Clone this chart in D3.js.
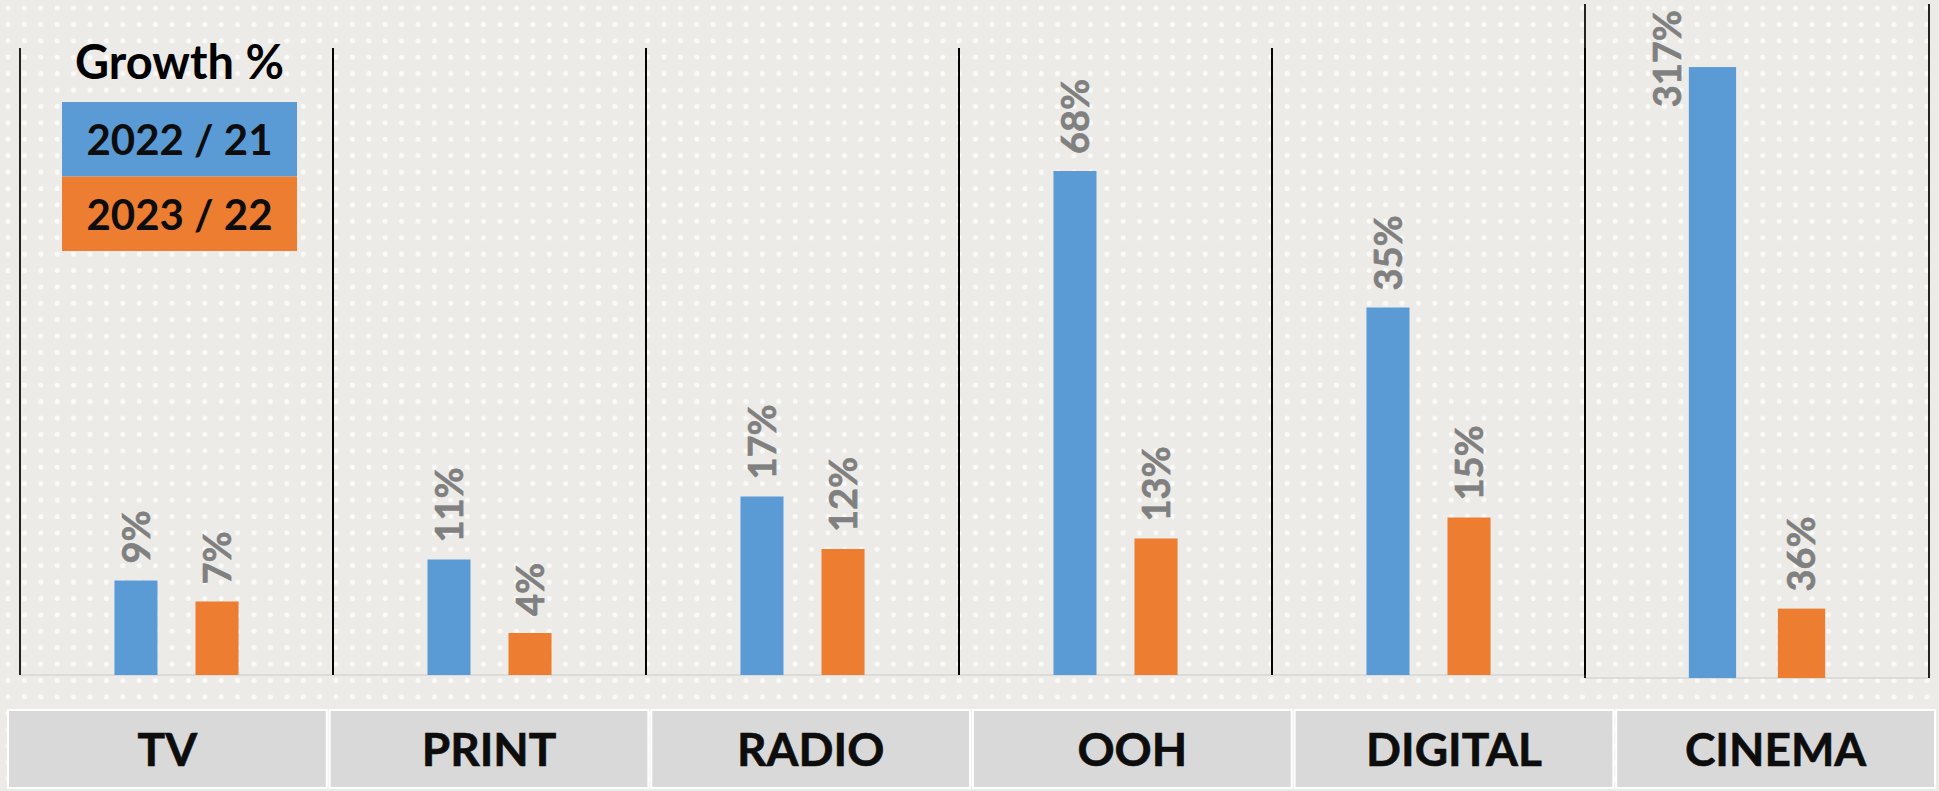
<!DOCTYPE html>
<html>
<head>
  <meta charset="utf-8">
  <title>Growth %</title>
  <script src="https://d3js.org/d3.v7.min.js"></script>
  <style>
    body { margin: 0; background: #edebe7; }
    svg { display: block; font-family: Lato, "Open Sans", sans-serif; }
  </style>
</head>
<body>
  <svg width="1939" height="791"></svg>

  <script>
    // datos del gráfico
    const categories = ["TV", "PRINT", "RADIO", "OOH", "DIGITAL", "CINEMA"];
    const series = ["2022 / 21", "2023 / 22"];
    const growth2022 = [9, 11, 17, 68, 35, 317];
    const growth2023 = [7, 4, 12, 13, 15, 36];
    const colors = ["#5b9bd5", "#ed7d31"];

    const width = 1939, height = 791;
    const svg = d3.select("svg");

    // fondo con puntos
    const defs = svg.append("defs");
    const pat = defs.append("pattern")
      .attr("id", "dots")
      .attr("patternUnits", "userSpaceOnUse")
      .attr("width", 16.4).attr("height", 16.4);
    pat.append("circle")
      .attr("cx", 8).attr("cy", 8).attr("r", 2.5)
      .attr("fill", "#fff").attr("opacity", 0.75);
    svg.append("rect").attr("width", width).attr("height", height).attr("fill", "#ecebe7");
    svg.append("rect").attr("width", width).attr("height", height).attr("fill", "url(#dots)");

    // cinco paneles con la misma escala; CINEMA va aparte
    const mainCats = categories.slice(0, 5);
    const x0 = d3.scaleBand().domain(mainCats).range([20, 1585]);
    const xCin = d3.scaleBand().domain(["CINEMA"]).range([1585, 1929]);
    const panelX = c => c === "CINEMA" ? xCin(c) : x0(c);
    const panelW = c => c === "CINEMA" ? xCin.bandwidth() : x0.bandwidth();

    const yMain = d3.scaleLinear().domain([0, 60]).range([675, 45]);
    const maxShown = 48; // barras más altas se cortan aquí
    const yCin = d3.scaleLinear().domain([0, 330]).range([678, 42]);
    const yFor = c => c === "CINEMA" ? yCin : yMain;

    const rows = categories.map((c, i) => ({
      cat: c,
      values: [growth2022[i], growth2023[i]]
    }));

    // línea base
    const g = svg.append("g");
    g.append("line")
      .attr("x1", 20).attr("x2", 1585)
      .attr("y1", yMain(0)).attr("y2", yMain(0))
      .attr("stroke", "#d6d6d6").attr("stroke-width", 1.5);
    g.append("line")
      .attr("x1", 1585).attr("x2", 1929)
      .attr("y1", yCin(0)).attr("y2", yCin(0))
      .attr("stroke", "#d6d6d6").attr("stroke-width", 1.5);

    // separadores verticales
    rows.forEach(r => {
      const isCin = r.cat === "CINEMA";
      const top = isCin ? 4 : 48;
      const bottom = yFor(r.cat)(0);
      [panelX(r.cat), panelX(r.cat) + panelW(r.cat)].forEach(xx => {
        g.append("line")
          .attr("x1", xx).attr("x2", xx)
          .attr("y1", top).attr("y2", bottom)
          .attr("stroke", "#000").attr("stroke-width", 1.7);
      });
    });

    // barras
    rows.forEach(r => {
      const y = yFor(r.cat);
      const w = panelW(r.cat);
      const x1 = d3.scaleBand().domain(series).range([0, w])
        .paddingInner(0.469).paddingOuter(1.166);
      const pg = g.append("g").attr("transform", `translate(${panelX(r.cat)},0)`);
      const fontSize = 38;

      r.values.forEach((v, k) => {
        const shown = r.cat === "CINEMA" ? v : Math.min(v, maxShown);
        const bx = x1(series[k]);
        const top = y(shown);
        pg.append("rect")
          .attr("x", bx).attr("width", x1.bandwidth())
          .attr("y", top).attr("height", y(0) - top)
          .attr("fill", colors[k]);

        const label = pg.append("text")
          .text(v + "%")
          .attr("fill", "#808080")
          .attr("font-weight", 700)
          .attr("font-size", fontSize)
          .attr("stroke", "#808080").attr("stroke-width", 0.6)
          .attr("dy", "0.36em");
        const len = label.node().getComputedTextLength();
        const cx = bx + x1.bandwidth() / 2;
        if (top - 17 - len < 4) {
          // no cabe encima: a la izquierda de la barra
          label.attr("text-anchor", "end")
            .attr("transform", `translate(${bx - 22},10) rotate(-90)`);
        } else {
          label.attr("text-anchor", "start")
            .attr("transform", `translate(${cx},${top - 17}) rotate(-90)`);
        }
      });
    });

    // cajas de categorías
    const xBox = d3.scaleBand().domain(categories).range([8, 1935]).paddingInner(0.009);
    const boxes = svg.append("g");
    boxes.selectAll("rect")
      .data(categories)
      .enter().append("rect")
      .attr("x", d => xBox(d))
      .attr("y", 710)
      .attr("width", xBox.bandwidth())
      .attr("height", 78)
      .attr("fill", "#d9d9d9")
      .attr("stroke", "#fff").attr("stroke-width", 2);
    boxes.selectAll("text")
      .data(categories)
      .enter().append("text")
      .attr("x", d => xBox(d) + xBox.bandwidth() / 2)
      .attr("y", 766)
      .attr("text-anchor", "middle")
      .attr("font-weight", 700)
      .attr("font-size", 46)
      .attr("fill", "#0d0d0d")
      .attr("stroke", "#0d0d0d").attr("stroke-width", 0.6)
      .text(d => d);

    // leyenda
    const leg = svg.append("g");
    leg.append("text")
      .attr("x", 179.5).attr("y", 79)
      .attr("text-anchor", "middle")
      .attr("font-weight", 700).attr("font-size", 47)
      .attr("fill", "#000")
      .text("Growth %");
    series.forEach((s, k) => {
      leg.append("rect")
        .attr("x", 62).attr("y", 102 + k * 74.5)
        .attr("width", 235).attr("height", 74.5)
        .attr("fill", colors[k]);
      leg.append("text")
        .attr("x", 179.5).attr("y", 155 + k * 74.5)
        .attr("text-anchor", "middle")
        .attr("font-weight", 700).attr("font-size", 42)
        .attr("fill", "#0d0d0d")
        .text(s);
    });
  </script>
</body>
</html>
